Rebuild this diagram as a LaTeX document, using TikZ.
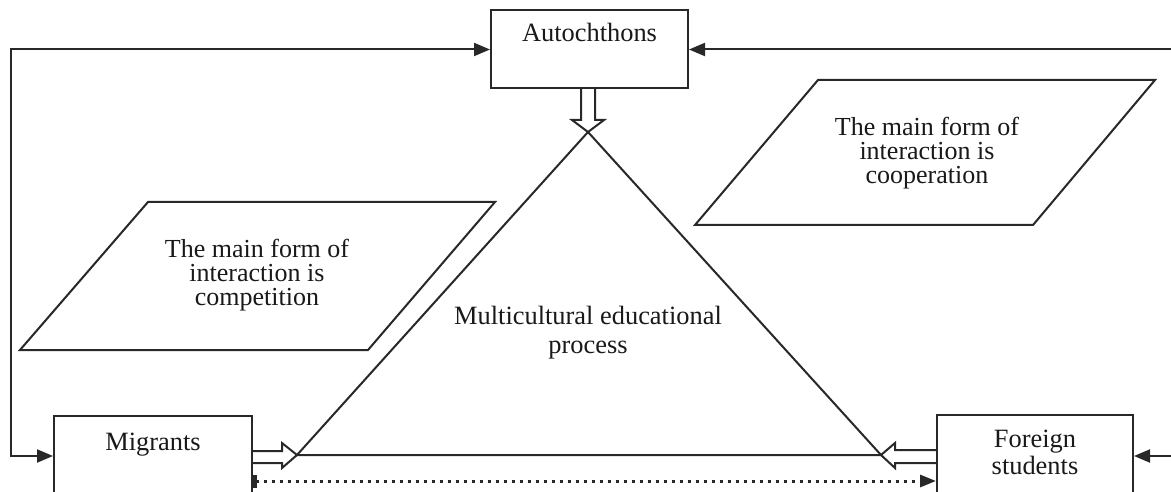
\documentclass[tikz,border=0pt]{standalone}
\usepackage{fontspec}
\setmainfont{Liberation Serif}
\usetikzlibrary{arrows.meta}
\definecolor{ln}{RGB}{40,40,40}
\definecolor{tx}{RGB}{25,25,25}
\begin{document}
\begin{tikzpicture}[x=1pt,y=-1pt,
  every node/.style={font=\fontsize{26}{24}\selectfont, text=tx, inner sep=0pt},
  box/.style={draw=ln, line width=2pt, fill=white},
  conn/.style={draw=ln, line width=2pt},
  hollow/.style={draw=ln, line width=2pt, fill=white, line join=miter},
  solidtips/.style={{Triangle[length=16pt,width=13pt]}-{Triangle[length=16pt,width=13pt]}},
  dotline/.style={draw=ln, line width=3pt, dash pattern=on 3pt off 5pt,
     {Rectangle[length=4pt,width=13pt]}-{Triangle[length=16pt,width=12pt]}}
]
\useasboundingbox (0,0) rectangle (1171,492);
\clip (0,0) rectangle (1171,492);
\fill[white] (0,0) rectangle (1171,492);

% triangle
\coordinate (apex) at (588,132);
\coordinate (tl) at (297,455);
\coordinate (tr) at (881,455);
\draw[conn, line join=miter] (tl) -- (apex) -- (tr) -- cycle;

% hollow double arrows
\draw[hollow] (581,89) -- (581,120) -- (572,120) -- (apex) -- (604,120) -- (595,120) -- (595,89);
\draw[hollow] (253,451) -- (282,451) -- (282,443) -- (tl) -- (282,468) -- (282,463) -- (253,463);
\draw[hollow] (936,450) -- (895,450) -- (895,443) -- (tr) -- (895,468) -- (895,463) -- (936,463);

% boxes
\node[box, minimum width=197pt, minimum height=78pt] (abox) at (589.5,49.5) {};
\node[font=\fontsize{26.4}{24}\selectfont] (atext) at (589.5,32) {Autochthons};
\node[box, minimum width=198pt, minimum height=104pt] (mbox) at (153,468) {};
\node[font=\fontsize{26.4}{24}\selectfont] (mtext) at (153,445) {Migrants};
\node[box, minimum width=196pt, minimum height=105pt] (fbox) at (1035,467.5) {};
\node[align=center, font=\fontsize{26.4}{27}\selectfont] (ftext) at (1035,452.5) {Foreign\\students};

% parallelograms
\draw[conn, fill=white] (148,202) -- (495,202) -- (368,350) -- (20,350) -- cycle;
\node[align=center] (ptl) at (257,275) {The main form of\\interaction is\\competition};
\draw[conn, fill=white] (818,80) -- (1155,80) -- (1033,225) -- (695,225) -- cycle;
\node[align=center] (ptr) at (927,153) {The main form of\\interaction is\\cooperation};

% centre text
\node[align=center, font=\fontsize{26.4}{29}\selectfont] (mep) at (588,333) {Multicultural educational\\process};

% feedback connectors
\coordinate (ltop) at (11,49.5);
\coordinate (lbot) at (11,456);
\coordinate (rtop) at (1195,49.5);
\coordinate (rbot) at (1195,456);
\draw[conn, solidtips] (abox.west) -- (ltop) -- (lbot) -- (lbot -| mbox.west);
\draw[conn, solidtips] (abox.east) -- (rtop) -- (rbot) -- (rbot -| fbox.east);

% dotted connector
\coordinate (dy) at (0,481);
\draw[dotline] (mbox.east |- dy) -- (fbox.west |- dy);
\end{tikzpicture}
\end{document}
